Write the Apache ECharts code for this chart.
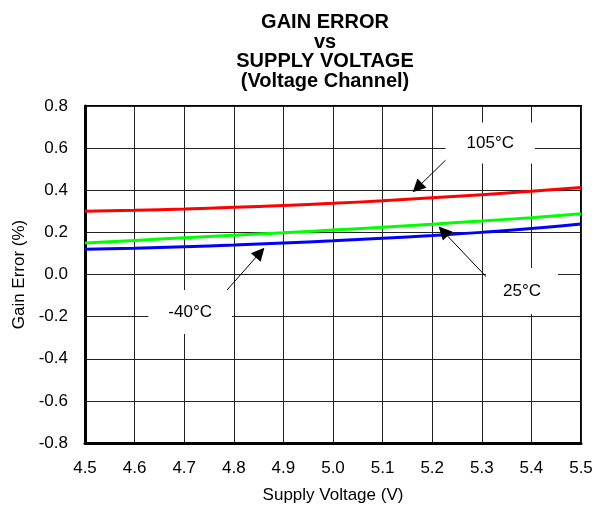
<!DOCTYPE html>
<html>
<head>
<meta charset="utf-8">
<script src="https://cdn.jsdelivr.net/npm/echarts@6/dist/echarts.min.js"></script>
<style>
html,body{margin:0;padding:0;background:#fff;}
#chart{width:597px;height:505px;}
</style>
</head>
<body>
<div id="chart"></div>
<script>
// Supply voltage (V)
const voltages = [4.5, 4.6, 4.7, 4.8, 4.9, 5.0, 5.1, 5.2, 5.3, 5.4, 5.5];
// Gain error (%) per temperature
const gain105C = [0.300, 0.305, 0.311, 0.319, 0.328, 0.338, 0.350, 0.364, 0.379, 0.395, 0.413];
const gain25C  = [0.150, 0.162, 0.174, 0.186, 0.198, 0.211, 0.224, 0.239, 0.254, 0.270, 0.288];
const gainM40C = [0.120, 0.125, 0.132, 0.140, 0.150, 0.160, 0.172, 0.185, 0.200, 0.218, 0.240];
const seriesNames = ['105°C', '25°C', '-40°C'];

// Annotation text anchors and arrows (data coordinates)
const labelAt = [[5.317, 0.624], [5.381, -0.078], [4.712, -0.178]];
const arrowFrom = [[5.248, 0.591], [5.315, -0.026], [4.772, -0.112]];
const arrowTo   = [[5.170, 0.412], [5.222, 0.205], [4.853, 0.104]];

const FONT = '"Liberation Sans", Arial, sans-serif';
const pair = (xs, ys) => xs.map((x, i) => [x, ys[i]]);

const chart = echarts.init(document.getElementById('chart'), null, {renderer: 'canvas'});
chart.setOption({
  animation: false,
  backgroundColor: '#fff',
  title: {
    text: 'GAIN ERROR\nvs\nSUPPLY VOLTAGE\n(Voltage Channel)',
    left: 320, top: 8, textAlign: 'center',
    textStyle: {fontFamily: FONT, fontWeight: 'bold', fontSize: 20, lineHeight: 19.5, color: '#000'}
  },
  grid: {left: 85, right: 16, top: 106, bottom: 62, containLabel: false, outerBoundsMode: 'none',
         show: true, borderColor: '#000', borderWidth: 2, backgroundColor: 'transparent'},
  xAxis: {
    type: 'value', min: 4.5, max: 5.5, interval: 0.1,
    name: 'Supply Voltage (V)', nameLocation: 'middle', nameGap: 44,
    nameTextStyle: {fontFamily: FONT, fontSize: 17, color: '#000'},
    axisLine: {show: true, onZero: false, lineStyle: {color: '#000', width: 3}},
    axisTick: {show: false},
    axisLabel: {fontFamily: FONT, fontSize: 17, color: '#000', margin: 17, formatter: v => v.toFixed(1)},
    splitLine: {show: true, lineStyle: {color: '#222', width: 1}}
  },
  yAxis: {
    type: 'value', min: -0.8, max: 0.8, interval: 0.2,
    name: 'Gain Error (%)', nameLocation: 'middle', nameGap: 56, nameRotate: 90,
    nameTextStyle: {fontFamily: FONT, fontSize: 17, color: '#000'},
    axisLine: {show: true, onZero: false, lineStyle: {color: '#000', width: 3}},
    axisTick: {show: false},
    axisLabel: {fontFamily: FONT, fontSize: 17, color: '#000', margin: 17, formatter: v => v.toFixed(1)},
    splitLine: {show: true, lineStyle: {color: '#222', width: 1}}
  },
  series: [
    {name: seriesNames[0], type: 'line', data: pair(voltages, gain105C), smooth: true, showSymbol: false, lineStyle: {color: '#ff0000', width: 3}, z: 3},
    {name: seriesNames[1], type: 'line', data: pair(voltages, gain25C), smooth: true, showSymbol: false, lineStyle: {color: '#00ff00', width: 3}, z: 3},
    {name: seriesNames[2], type: 'line', data: pair(voltages, gainM40C), smooth: true, showSymbol: false, lineStyle: {color: '#0000ff', width: 3}, z: 3},
    {
      name: 'annotations', type: 'line', data: [], silent: true, z: 5,
      markPoint: {
        silent: true, symbol: 'rect', symbolSize: 0,
        label: {show: true, position: 'inside', fontFamily: FONT, fontSize: 17, color: '#000', backgroundColor: '#fff'},
        data: [
          {coord: labelAt[0], value: seriesNames[0], label: {formatter: seriesNames[0], padding: [13, 21, 11, 21]}},
          {coord: labelAt[1], value: seriesNames[1], label: {formatter: seriesNames[1], padding: [15, 17, 14, 17]}},
          {coord: labelAt[2], value: seriesNames[2], label: {formatter: seriesNames[2], padding: [14, 20, 13, 20]}}
        ]
      },
      markLine: {
        silent: true, symbol: ['none', 'triangle'], symbolSize: 13,
        label: {show: false},
        lineStyle: {color: '#000', width: 1, type: 'solid'},
        itemStyle: {color: '#000'},
        data: arrowFrom.map((f, i) => [{coord: f}, {coord: arrowTo[i]}])
      }
    }
  ]
});
</script>
</body>
</html>
